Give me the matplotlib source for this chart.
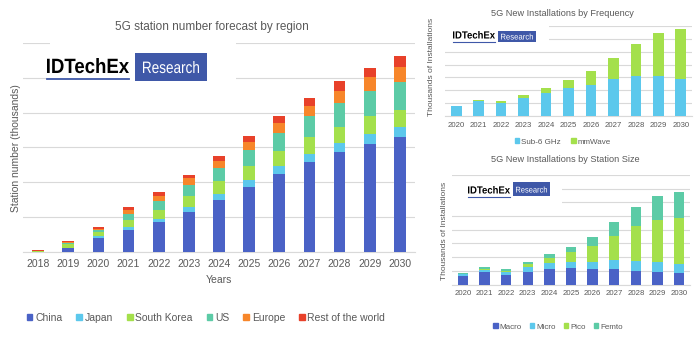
import matplotlib
matplotlib.use("Agg")
import matplotlib.pyplot as plt
from matplotlib.patches import Rectangle, Patch, PathPatch
from matplotlib.textpath import TextPath
from matplotlib.font_manager import FontProperties
from matplotlib.transforms import Affine2D

plt.rcParams['font.family'] = ['Liberation Sans', 'DejaVu Sans']

# ---- data: 5G station number forecast by region (thousands) ----
years = ['2018', '2019', '2020', '2021', '2022', '2023', '2024',
         '2025', '2026', '2027', '2028', '2029', '2030']
regions = ['China', 'Japan', 'South Korea', 'US', 'Europe', 'Rest of the world']
china = [1, 11, 41, 63, 86, 115, 149, 188, 224, 257, 286, 309, 330]
japan = [0.3, 1, 5, 9, 10, 15, 18, 19, 23, 25, 27, 30, 29]
south_korea = [2, 11, 12, 21, 26, 31, 37, 41, 44, 47, 47, 50, 50]
us = [0.5, 2, 5, 17, 25, 30, 37, 45, 52, 60, 68, 74, 79]
europe = [0.3, 3, 4, 10, 14, 22, 20, 23, 27, 29, 35, 38, 42]
rest_world = [0.3, 3, 4, 10, 11, 9, 16, 18, 20, 24, 27, 28, 33]

# ---- data: new installations (thousands, axis units) ----
inst_years = ['2020', '2021', '2022', '2023', '2024', '2025',
              '2026', '2027', '2028', '2029', '2030']
freq_names = ['Sub-6 GHz', 'mmWave']
sub6 = [0.80, 1.17, 1.04, 1.42, 1.81, 2.15, 2.44, 2.85, 3.11, 3.11, 2.85]
mmwave = [0.0, 0.10, 0.13, 0.21, 0.37, 0.62, 1.03, 1.66, 2.49, 3.34, 3.89]

size_names = ['Macro', 'Micro', 'Pico', 'Femto']
macro = [0.63, 0.90, 0.71, 0.93, 1.12, 1.20, 1.12, 1.12, 1.02, 0.90, 0.83]
micro = [0.12, 0.18, 0.19, 0.36, 0.42, 0.46, 0.54, 0.66, 0.72, 0.73, 0.67]
pico = [0.02, 0.05, 0.12, 0.22, 0.41, 0.71, 1.14, 1.75, 2.50, 3.06, 3.36]
femto = [0.08, 0.14, 0.10, 0.12, 0.25, 0.39, 0.68, 1.02, 1.40, 1.77, 1.88]

# colours
c_blue = '#4a62c6'
c_lblue = '#5cc8ec'
c_green = '#a4e04c'
c_teal = '#5ccba6'
c_orange = '#f7862a'
c_red = '#e8412a'
txt = '#595959'
grid = '#d9d9d9'
logo_blue = '#3f58a8'

W, H = 700, 356
fig = plt.figure(figsize=(7, 3.56), dpi=100)


def box(x0, y0, x1, y1):
    # pixel box (top-left origin) -> figure fraction rect
    return [x0 / W, 1 - y1 / H, (x1 - x0) / W, (y1 - y0) / H]


def fpt(x, y):
    return x / W, 1 - y / H


def squeeze_text(s, x0, x1, base, cap, color, bold):
    # text drawn as a path, stretched to fit pixel width and cap height
    prop = FontProperties(family='Liberation Sans', weight='bold' if bold else 'normal')
    tp = TextPath((0, 0), s, size=10, prop=prop)
    ext = tp.get_extents()
    tr = (Affine2D().translate(-ext.x0, 0)
          .scale((x1 - x0) / ext.width, cap / ext.y1)
          .translate(x0, H - base))
    fig.patches.append(PathPatch(tr.transform_path(tp), facecolor=color,
                                 edgecolor='none', transform=None, zorder=7))


def style_axes(ax, ymax, fs):
    ax.set_ylim(0, ymax)
    ax.set_yticks(range(0, ymax + 1))
    ax.set_yticklabels([])
    ax.grid(axis='y', color=grid, linewidth=0.8)
    ax.set_axisbelow(True)
    for s in ['top', 'right', 'left']:
        ax.spines[s].set_visible(False)
    ax.spines['bottom'].set_color(grid)
    ax.tick_params(axis='both', length=0, colors=txt, labelsize=fs)
    ax.tick_params(axis='x', pad=4)


def stack(ax, cats, series, colors, width):
    bottom = [0] * len(cats)
    for vals, col in zip(series, colors):
        ax.bar(cats, vals, width, bottom=bottom, color=col, zorder=3)
        bottom = [b + v for b, v in zip(bottom, vals)]
    ax.set_xlim(-0.5, len(cats) - 0.5)


def logo(x0, x1, base, cap, rx0, ry0, rx1, ry1, r_pad, r_base, r_cap,
         underline_y, lw, white):
    # white backing of the logo image hides part of the gridlines
    wx0, wy0, wx1, wy1 = white
    fig.patches.append(Rectangle(fpt(wx0, wy1), (wx1 - wx0) / W, (wy1 - wy0) / H,
                                 transform=fig.transFigure, facecolor='white',
                                 edgecolor='none', zorder=5))
    squeeze_text('IDTechEx', x0, x1, base, cap, 'black', True)
    fig.lines.append(plt.Line2D([x0 / W, x1 / W], [1 - underline_y / H] * 2,
                                transform=fig.transFigure, color=logo_blue,
                                linewidth=lw, zorder=6))
    fig.patches.append(Rectangle(fpt(rx0, ry1), (rx1 - rx0) / W, (ry1 - ry0) / H,
                                 transform=fig.transFigure, facecolor=logo_blue,
                                 edgecolor='none', zorder=6))
    squeeze_text('Research', rx0 + r_pad, rx1 - r_pad, r_base, r_cap, 'white', False)


# ---- left chart ----
ax1 = fig.add_axes(box(23, 43, 415, 252))
stack(ax1, years, [china, japan, south_korea, us, europe, rest_world],
      [c_blue, c_lblue, c_green, c_teal, c_orange, c_red], 0.39)
ax1.set_ylim(0, 600)
ax1.set_yticks(range(0, 601, 100))
ax1.set_yticklabels([])
ax1.grid(axis='y', color=grid, linewidth=0.8)
ax1.set_axisbelow(True)
for s in ['top', 'right', 'left']:
    ax1.spines[s].set_visible(False)
ax1.spines['bottom'].set_color(grid)
ax1.tick_params(axis='both', length=0, colors=txt, labelsize=7.5, pad=5)
fig.text(*fpt(219, 280), 'Years', fontsize=7.5, color=txt, ha='center', va='center')
fig.text(*fpt(16, 148), 'Station number (thousands)', fontsize=7.5, color=txt,
         rotation=90, ha='center', va='center')
fig.text(*fpt(212, 27), '5G station number forecast by region', fontsize=8.5,
         color=txt, ha='center', va='center')
handles = [Patch(color=c) for c in [c_blue, c_lblue, c_green, c_teal, c_orange, c_red]]
fig.legend(handles, regions, loc='center', bbox_to_anchor=fpt(206, 318), ncol=6,
           frameon=False, fontsize=7.5, handlelength=0.55, handleheight=0.55,
           handletextpad=0.25, columnspacing=1.35, labelcolor=txt)
logo(47, 129, 73, 15, 135, 53, 207, 81, 8, 73, 12, 79, 1.3, (50, 39, 236, 86))

# ---- top right chart ----
ax2 = fig.add_axes(box(445, 26, 692, 116))
stack(ax2, inst_years, [sub6, mmwave], [c_lblue, c_green], 0.47)
style_axes(ax2, 7, 5.6)
fig.text(*fpt(431, 67), 'Thousands of Installations', fontsize=6, color=txt,
         rotation=90, ha='center', va='center')
fig.text(*fpt(562, 13), '5G New Installations by Frequency', fontsize=6.6,
         color=txt, ha='center', va='center')
fig.legend([Patch(color=c_lblue), Patch(color=c_green)], freq_names, loc='center',
           bbox_to_anchor=fpt(563, 142), ncol=2, frameon=False, fontsize=5.8,
           handlelength=0.55, handleheight=0.55, handletextpad=0.25,
           columnspacing=1.3, labelcolor=txt)
logo(453, 495, 38.5, 7.5, 498, 31, 536, 42, 3, 39.5, 6, 41.5, 0.8,
     (444, 24, 549, 45))

# ---- bottom right chart ----
ax3 = fig.add_axes(box(452, 175, 690, 284.5))
stack(ax3, inst_years, [macro, micro, pico, femto],
      [c_blue, c_lblue, c_green, c_teal], 0.48)
style_axes(ax3, 8, 5.6)
fig.text(*fpt(445, 231), 'Thousands of Installations', fontsize=6, color=txt,
         rotation=90, ha='center', va='center')
fig.text(*fpt(565, 160), '5G New Installations by Station Size', fontsize=6.6,
         color=txt, ha='center', va='center')
fig.legend([Patch(color=c) for c in [c_blue, c_lblue, c_green, c_teal]], size_names,
           loc='center', bbox_to_anchor=fpt(558, 327), ncol=4, frameon=False,
           fontsize=5.8, handlelength=0.55, handleheight=0.55, handletextpad=0.25,
           columnspacing=1.0, labelcolor=txt)
logo(468, 510, 193.5, 7.5, 513, 182, 550, 196, 3, 192.5, 6, 196.5, 0.8,
     (451, 184, 562, 208))

fig.savefig('out.png', dpi=100, facecolor='white')
